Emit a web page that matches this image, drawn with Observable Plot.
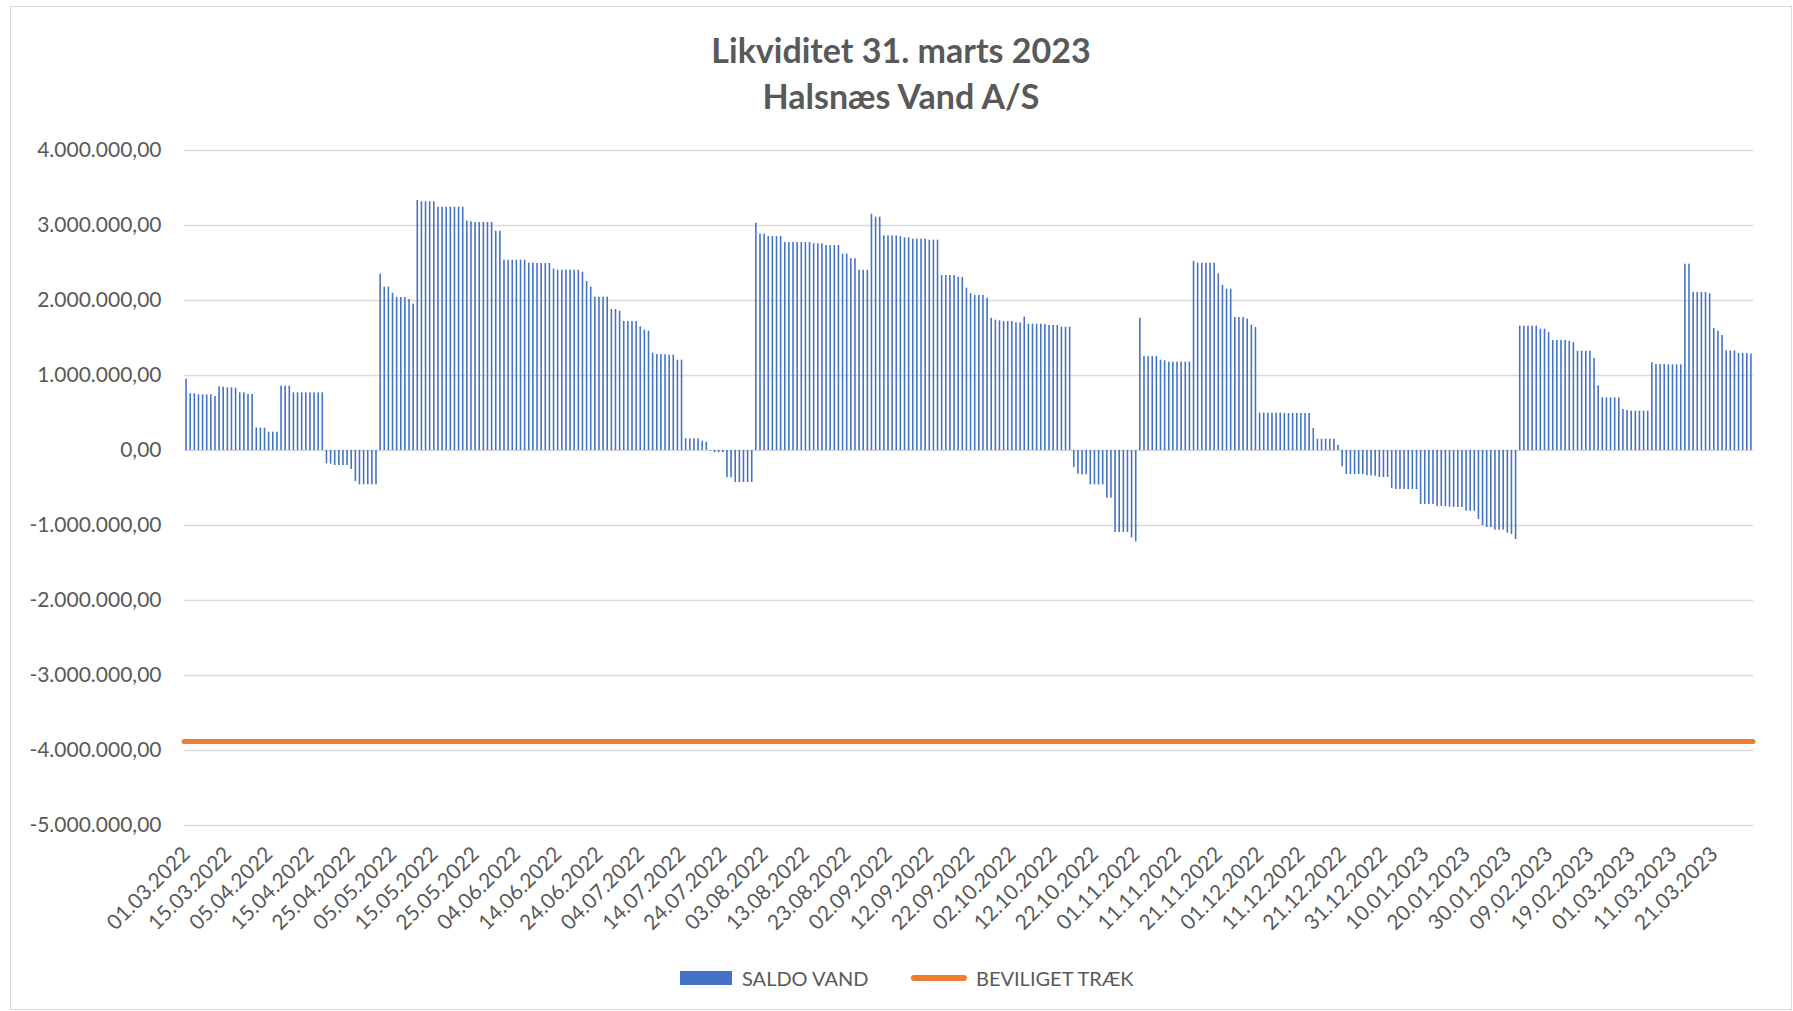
<!DOCTYPE html>
<html>
<head>
<meta charset="utf-8">
<script src="https://cdn.jsdelivr.net/npm/d3@7"></script>
<script src="https://cdn.jsdelivr.net/npm/@observablehq/plot@0.6"></script>
<style>
  html, body { margin: 0; padding: 0; background: #fff; }
  #wrap { position: relative; width: 1793px; height: 1011px; font-family: Lato, "Open Sans", sans-serif; color: #595959; overflow: hidden; }
  #frame { position: absolute; left: 10px; top: 6px; width: 1782px; height: 1004px; border: 1px solid #d9d9d9; box-sizing: border-box; }
  #title { position: absolute; left: 10px; width: 1782px; top: 27px; text-align: center; font-weight: 700; font-size: 34px; line-height: 46px; color: #595959; }
  #chart { position: absolute; left: 0; top: 130px; }
  .leg { position: absolute; font-size: 20px; line-height: 20px; color: #595959; white-space: nowrap; }
</style>
</head>
<body>
<div id="wrap">
  <div id="frame"></div>
  <div id="title">Likviditet 31. marts 2023<br>Halsnæs Vand A/S</div>
  <div id="chart"></div>
  <div class="leg" style="left:680px; top:971px; width:52px; height:14px; background:#4472C4;"></div>
  <div class="leg" style="left:742px; top:968px;">SALDO VAND</div>
  <div class="leg" style="left:911px; top:975px; width:56px; height:5.5px; border-radius:3px; background:#ED7D31;"></div>
  <div class="leg" style="left:976px; top:968px;">BEVILIGET TRÆK</div>
</div>
<script>
// Categories: first irregular entry dates, then daily dates
const earlyDates = ["01.03.2022","02.03.2022","03.03.2022","04.03.2022","07.03.2022","08.03.2022","09.03.2022","10.03.2022","11.03.2022","14.03.2022",
  "15.03.2022","16.03.2022","18.03.2022","21.03.2022","23.03.2022","24.03.2022","25.03.2022","28.03.2022","30.03.2022","01.04.2022"];
const dailyStart = "2022-04-05";
const dailyEnd = "2023-03-31"; // exclusive

// Tick labels on the category axis
const tickLabels = ["01.03.2022","15.03.2022","05.04.2022","15.04.2022","25.04.2022","05.05.2022","15.05.2022","25.05.2022",
  "04.06.2022","14.06.2022","24.06.2022","04.07.2022","14.07.2022","24.07.2022","03.08.2022","13.08.2022","23.08.2022",
  "02.09.2022","12.09.2022","22.09.2022","02.10.2022","12.10.2022","22.10.2022","01.11.2022","11.11.2022","21.11.2022",
  "01.12.2022","11.12.2022","21.12.2022","31.12.2022","10.01.2023","20.01.2023","30.01.2023","09.02.2023","19.02.2023",
  "01.03.2023","11.03.2023","21.03.2023"];

const yTicks = [4000000, 3000000, 2000000, 1000000, 0, -1000000, -2000000, -3000000, -4000000, -5000000];

// SALDO VAND (kr.)
const saldoVand = [
  951000, 756000, 756000, 742000, 742000, 742000, 742000, 720000, 849000, 844000,
  836000, 836000, 831000, 769000, 769000, 747000, 747000, 302000, 298000, 298000,
  244000, 244000, 244000, 858000, 858000, 858000, 769000, 769000, 769000, 769000,
  769000, 769000, 769000, 769000, -178000, -182000, -200000, -200000, -200000, -200000,
  -253000, -413000, -458000, -458000, -458000, -458000, -458000, 2351000, 2178000, 2178000,
  2098000, 2040000, 2040000, 2040000, 2013000, 1951000, 3333000, 3316000, 3316000, 3316000,
  3316000, 3244000, 3244000, 3244000, 3244000, 3244000, 3244000, 3244000, 3058000, 3049000,
  3040000, 3040000, 3040000, 3040000, 3040000, 2924000, 2924000, 2538000, 2538000, 2538000,
  2538000, 2538000, 2538000, 2498000, 2498000, 2493000, 2493000, 2493000, 2493000, 2418000,
  2404000, 2404000, 2404000, 2404000, 2404000, 2404000, 2378000, 2253000, 2178000, 2044000,
  2044000, 2044000, 2044000, 1880000, 1880000, 1858000, 1720000, 1720000, 1720000, 1720000,
  1649000, 1604000, 1591000, 1298000, 1280000, 1280000, 1276000, 1271000, 1271000, 1204000,
  1204000, 156000, 156000, 156000, 156000, 124000, 111000, -10000, -30000, -30000,
  -30000, -364000, -364000, -427000, -427000, -427000, -427000, -427000, 3031000, 2884000,
  2884000, 2853000, 2853000, 2853000, 2853000, 2773000, 2773000, 2773000, 2773000, 2773000,
  2773000, 2773000, 2756000, 2756000, 2756000, 2733000, 2733000, 2733000, 2733000, 2618000,
  2618000, 2556000, 2556000, 2404000, 2404000, 2404000, 3151000, 3111000, 3111000, 2862000,
  2862000, 2862000, 2862000, 2853000, 2836000, 2836000, 2818000, 2818000, 2818000, 2818000,
  2804000, 2804000, 2804000, 2333000, 2333000, 2333000, 2333000, 2311000, 2307000, 2164000,
  2093000, 2067000, 2067000, 2067000, 2031000, 1764000, 1738000, 1729000, 1720000, 1720000,
  1720000, 1702000, 1702000, 1778000, 1684000, 1684000, 1684000, 1684000, 1680000, 1667000,
  1667000, 1667000, 1644000, 1644000, 1644000, -227000, -316000, -324000, -324000, -458000,
  -458000, -458000, -458000, -636000, -636000, -1093000, -1093000, -1093000, -1093000, -1164000,
  -1218000, 1764000, 1253000, 1253000, 1253000, 1253000, 1204000, 1196000, 1178000, 1178000,
  1178000, 1178000, 1178000, 1178000, 2524000, 2498000, 2498000, 2498000, 2498000, 2498000,
  2356000, 2204000, 2151000, 2151000, 1773000, 1773000, 1773000, 1751000, 1671000, 1640000,
  498000, 498000, 498000, 498000, 498000, 498000, 493000, 493000, 493000, 493000,
  493000, 493000, 493000, 293000, 151000, 151000, 151000, 151000, 151000, 71000,
  -218000, -320000, -320000, -320000, -320000, -320000, -338000, -338000, -342000, -360000,
  -360000, -360000, -507000, -520000, -520000, -520000, -520000, -520000, -520000, -720000,
  -720000, -720000, -720000, -747000, -747000, -751000, -756000, -760000, -760000, -760000,
  -809000, -809000, -809000, -920000, -1000000, -1027000, -1027000, -1062000, -1062000, -1062000,
  -1102000, -1120000, -1187000, 1658000, 1658000, 1658000, 1658000, 1658000, 1618000, 1618000,
  1573000, 1467000, 1467000, 1467000, 1467000, 1458000, 1440000, 1324000, 1324000, 1324000,
  1324000, 1227000, 862000, 702000, 702000, 702000, 702000, 702000, 547000, 533000,
  524000, 524000, 524000, 524000, 524000, 1169000, 1147000, 1147000, 1147000, 1142000,
  1142000, 1142000, 1142000, 2484000, 2484000, 2107000, 2107000, 2107000, 2107000, 2089000,
  1627000, 1591000, 1533000, 1329000, 1329000, 1329000, 1293000, 1293000, 1293000, 1284000
];

// BEVILIGET TRÆK (kr.)
const bevilgetTraek = [-3880000];

const fmtDate = d3.utcFormat("%d.%m.%Y");
const dailyDates = d3.utcDay.range(new Date(dailyStart + "T00:00:00Z"), new Date(dailyEnd + "T00:00:00Z")).map(fmtDate);
const dates = earlyDates.concat(dailyDates);
const data = saldoVand.map((v, i) => ({date: dates[i], value: v}));

const loc = d3.formatLocale({decimal: ",", thousands: ".", grouping: [3], currency: ["", ""], minus: "-"});
const fmtNum = loc.format(",.2f");

const chart = Plot.plot({
  width: 1793,
  height: 805,
  marginLeft: 184,
  marginRight: 40,
  marginTop: 20,
  marginBottom: 110,
  style: {fontFamily: "Lato, 'Open Sans', sans-serif", fontSize: "21px", color: "#595959", background: "transparent", overflow: "visible"},
  x: {type: "band", domain: dates.slice(0, saldoVand.length), paddingInner: 0.62, paddingOuter: 0.31},
  y: {domain: [-5000000, 4000000]},
  marks: [
    Plot.ruleY(yTicks, {stroke: "#d9d9d9", strokeWidth: 1.3}),
    Plot.barY(data, {x: "date", y: "value", fill: "#4472C4"}),
    Plot.ruleY(bevilgetTraek, {stroke: "#ED7D31", strokeWidth: 5, strokeLinecap: "round"}),
    Plot.axisY({ticks: yTicks, tickFormat: fmtNum, tickSize: 0, tickPadding: 23, label: null}),
    Plot.axisX({ticks: tickLabels, tickRotate: -45, tickSize: 0, tickPadding: 25, label: null})
  ]
});
document.getElementById("chart").appendChild(chart);
</script>
</body>
</html>
